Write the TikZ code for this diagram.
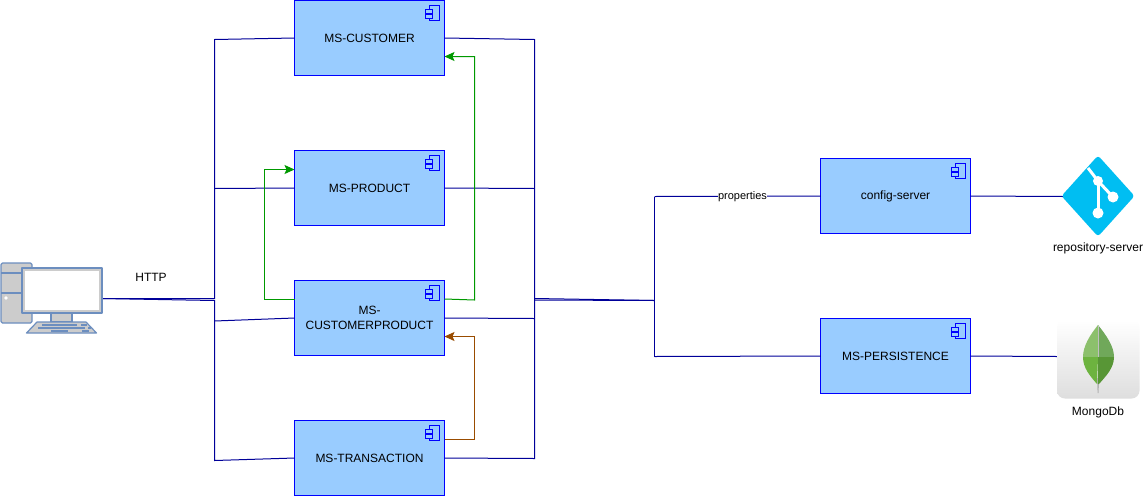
\documentclass[tikz,border=0pt]{standalone}
\usepackage{fontspec}
\setmainfont{Liberation Sans}
\usetikzlibrary{arrows.meta}
\definecolor{boxfill}{HTML}{99CCFF}
\definecolor{boxline}{HTML}{0000FF}
\definecolor{wire}{HTML}{000099}
\definecolor{greenw}{HTML}{009900}
\definecolor{brownw}{HTML}{994C00}
\definecolor{pcline}{HTML}{6C8EBF}
\definecolor{pcfill}{HTML}{CCCCCC}
\definecolor{gitblue}{HTML}{00BEF2}
\definecolor{leafa}{HTML}{8CC06C}
\definecolor{leafb}{HTML}{70A85A}
\definecolor{leafc}{HTML}{6DB33F}
\definecolor{leafd}{HTML}{589636}
\tikzset{
  comp/.style={draw=boxline,fill=boxfill,line width=1pt,minimum width=150pt,minimum height=75pt,inner sep=0pt,outer sep=0pt,align=center,font=\fontsize{12}{15}\selectfont,text=black},
  iconnode/.style={inner sep=0pt,outer sep=0pt,minimum height=40pt},
  wireline/.style={draw=wire,line width=1pt},
  glink/.style={draw=greenw,line width=1pt,-{Stealth[length=10pt,width=9pt,inset=2pt]}},
  blink/.style={draw=brownw,line width=1pt,-{Stealth[length=10pt,width=9pt,inset=2pt]}},
  lab/.style={inner sep=0.5pt,font=\fontsize{12}{14}\selectfont,text=black},
  smalllab/.style={inner sep=0.5pt,fill=white,font=\fontsize{11}{13}\selectfont,text=black},
  compicon/.style={draw=boxline,fill=boxfill,line width=1pt},
  pcstroke/.style={draw=pcline,fill=pcfill,line width=1.2pt,line join=round}
}
\newcommand{\cicon}[1]{%
  \begin{scope}[shift={(#1.north east)}]
    \draw[compicon] (-15,5) rectangle (-5,20);
    \draw[compicon] (-19,9) rectangle (-12,12.5);
    \draw[compicon] (-19,14) rectangle (-12,17.5);
  \end{scope}}
\begin{document}
\begin{tikzpicture}[x=1pt,y=-1pt]
\useasboundingbox (0,0) rectangle (1143,496);
\fill[white] (0,0) rectangle (1143,496);

% junction coordinates
\coordinate (busLt) at (214.5,39.5);
\coordinate (busLp) at (214.5,188.5);
\coordinate (busLc) at (214.5,321);
\coordinate (busLb) at (214.5,460.5);
\coordinate (busLa) at (214.5,298.5);
\coordinate (busLd) at (214.5,300.5);
\coordinate (busRt) at (534.5,39.5);
\coordinate (busRp) at (534.5,188.5);
\coordinate (busRc) at (534.5,318.5);
\coordinate (busRb) at (534.5,458.5);
\coordinate (busRa) at (534.5,298.5);
\coordinate (busRd) at (534.5,300);
\coordinate (hub) at (654.5,300.5);
\coordinate (hubT) at (654.5,196.5);
\coordinate (hubB) at (654.5,356.5);
\coordinate (g1a) at (474.5,300);
\coordinate (g1b) at (474.5,56.5);
\coordinate (g2a) at (264.5,299.5);
\coordinate (g2b) at (264.5,169.5);
\coordinate (b1a) at (474.5,439.5);
\coordinate (b1b) at (474.5,336.5);

% nodes
\node[comp] (cust) at (369.5,38) {MS-CUSTOMER};
\node[comp] (prod) at (369.5,188) {MS-PRODUCT};
\node[comp] (cp) at (369.5,318) {MS-\\CUSTOMERPRODUCT};
\node[comp] (trans) at (369.5,458) {MS-TRANSACTION};
\node[comp] (conf) at (895.5,196) {config-server};
\node[comp] (pers) at (895.5,356) {MS-PERSISTENCE};
\node[iconnode,minimum width=102pt] (pc) at (51,298.5) {};
\node[iconnode,minimum width=70pt] (git) at (1098,196.5) {};
\node[iconnode,minimum width=82pt] (mongo) at (1098,356.5) {};

\cicon{cust}\cicon{prod}\cicon{cp}\cicon{trans}\cicon{conf}\cicon{pers}

% left connectors
\draw[wireline] (pc.east) -- (busLa) -- (busLt) -- (cust.west);
\draw[wireline] (pc.east) -- (busLd) -- (busLb) -- (trans.west);
\draw[wireline] (busLp) -- (prod.west);
\draw[wireline] (busLc) -- (cp.west);
% right connectors
\draw[wireline] (cust.east) -- (busRt) -- (busRb) -- (trans.east);
\draw[wireline] (prod.east) -- (busRp);
\draw[wireline] (cp.east) -- (busRc);
\draw[wireline] (busRa) -- (hub);
\draw[wireline] (busRd) -- (hub);
\draw[wireline] (hubT) -- (hubB);
\draw[wireline] (hubT) -- (conf.west) node[smalllab,pos=0.53] {properties};
\draw[wireline] (hubB) -- (pers.west);
\draw[wireline] (conf.east) -- (git.west);
\draw[wireline] (pers.east) -- (mongo.west);
% coloured links
\draw[glink] ([yshift=19pt]cp.east) -- (g1a) -- (g1b) -- ([yshift=-18.5pt]cust.east);
\draw[glink] ([yshift=18.5pt]cp.west) -- (g2a) -- (g2b) -- ([yshift=18.5pt]prod.west);
\draw[blink] ([yshift=-121.5pt]cp.east) -- (b1a) -- (b1b) -- ([yshift=-18.5pt]cp.east);

% computer
\draw[pcstroke,rounded corners=1.5pt] (1,263) rectangle (32,323);
\draw[pcline,line width=1.2pt] (1,273) -- (32,273) (1,293) -- (32,293);
\fill[white] (6,298) circle (1.8);
\draw[pcstroke] (51,313) rectangle (72,322);
\draw[pcstroke] (22,268) rectangle (102,313);
\fill[white] (25,271) rectangle (99,310);
\draw[pcstroke] (26.5,333) -- (96.5,333) -- (86,322) -- (37,322) -- cycle;
\draw[pcline,line width=1.2pt] (42,325) -- (77,325) (81,325) -- (87,325)
  (38,328) -- (85,328) (88,328) -- (91,328)
  (51,331) -- (68,331) (82,331) -- (89,331);

% git icon
\fill[gitblue,rounded corners=3pt] (1098,155.5) -- (1134.5,196) -- (1098,236.5) -- (1061.5,196) -- cycle;
\draw[white,line width=3pt] (1088,168) -- (1098,181) -- (1113,197);
\draw[white,line width=3pt] (1098,181) -- (1098,213);
\fill[white] (1098,181) circle (5) (1113,197) circle (5.5) (1098,213) circle (5.5);

% mongodb icon
\shade[top color=white,bottom color=black!13,rounded corners=8pt] (1057,320) rectangle (1139.5,398.5);
\fill[black!30] (1097,378) -- (1099,378) -- (1098.6,393) -- (1097.6,393) -- cycle;
\fill[leafa] (1098,325) .. controls (1090,335) and (1083,346) .. (1083,357) -- (1098,357) -- cycle;
\fill[leafb] (1098,325) .. controls (1106,335) and (1114,346) .. (1114,357) -- (1098,357) -- cycle;
\fill[leafc] (1083,357) .. controls (1083,368) and (1090,376) .. (1097,384) -- (1098,357) -- cycle;
\fill[leafd] (1114,357) .. controls (1114,368) and (1106,376) .. (1099,384) -- (1098,384) -- (1098,357) -- cycle;
\draw[white!75!black,line width=0.5pt] (1098,326) -- (1098,357);

% labels
\node[lab] (httpl) at (151,277.5) {HTTP};
\node[lab] (repol) at (1098,248) {repository-server};
\node[lab] (mongol) at (1098,412) {MongoDb};
\end{tikzpicture}
\end{document}
